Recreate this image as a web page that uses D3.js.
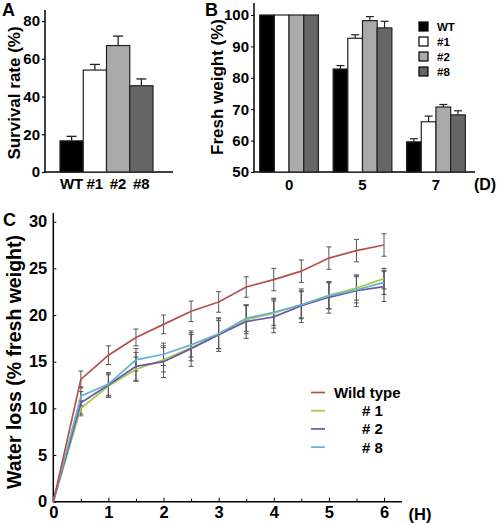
<!DOCTYPE html>
<html><head><meta charset="utf-8">
<script src="https://cdn.jsdelivr.net/npm/d3@7"></script>
<style>body{margin:0;background:#fff;} svg{display:block;font-family:"Liberation Sans",Arial,sans-serif;font-weight:bold;}</style>
</head><body>
<svg id="c" width="498" height="523"></svg>
<script>
// ---- Panel A data
const linesA = ["WT", "#1", "#2", "#8"];
const survival = [16.5, 54, 67, 45.7];
const survivalErr = [2.4, 3, 5, 3.6];
const yTicksA = [0, 20, 40, 60, 80];
// ---- Panel B data
const days = ["0", "5", "7"];
const freshWT = [100, 82.8, 59.6];
const fresh1 = [100, 92.6, 66.0];
const fresh2 = [100, 98.2, 70.7];
const fresh8 = [100, 95.9, 68.2];
const freshErr = [[0,1.1,1.0],[0,1.1,1.8],[0,1.3,0.8],[0,2.1,1.3]];
const yTicksB = [50, 60, 70, 80, 90, 100];
// ---- Panel C data
const hours = [0,0.5,1,1.5,2,2.5,3,3.5,4,4.5,5,5.5,6];
const lossWT = [0,13.1,15.7,17.6,19.0,20.4,21.4,23.0,23.8,24.7,26.1,26.9,27.5];
const errWT  = [0,0.9,1.0,0.9,1.0,1.1,1.1,1.1,1.2,1.2,1.2,1.2,1.2];
const loss1  = [0,10.0,12.4,14.2,15.2,16.5,17.9,19.5,20.2,21.1,22.1,22.9,23.9];
const err1   = [0,0.8,1.2,1.3,1.3,1.4,1.5,1.5,1.6,1.4,1.4,1.3,1.1];
const loss2  = [0,10.6,12.5,14.5,15.0,16.4,17.9,19.3,19.8,21.0,21.9,22.6,23.05];
const err2   = [0,1.2,1.3,1.5,1.7,1.9,1.8,1.8,1.7,1.8,1.7,1.7,1.6];
const loss8  = [0,11.3,12.6,15.2,15.8,16.8,18.0,19.65,20.3,21.1,22.05,22.7,23.5];
const err8   = [0,1.0,1.2,1.2,1.2,1.3,1.6,1.4,1.4,1.5,1.4,1.4,1.3];
const legendC = ["Wild type", "# 1", "# 2", "# 8"];
const yTicksC = [0,5,10,15,20,25,30];
const xTicksC = [0,1,2,3,4,5,6];

const svg = d3.select("#c");
const fills = ["#000000", "#ffffff", "#aaaaaa", "#666666"];
const FF = "Liberation Sans, Arial, sans-serif";

// ================= Panel A
{
  const y = d3.scaleLinear().domain([0, 80]).range([172, 21]);
  const x = d3.scaleBand().domain(linesA).range([60, 153]).padding(0);
  const g = svg.append("g");
  g.append("line").attr("x1",45).attr("x2",45).attr("y1",10).attr("y2",172).attr("stroke","#000").attr("stroke-width",1.5);
  g.append("line").attr("x1",45).attr("x2",173).attr("y1",172).attr("y2",172).attr("stroke","#000").attr("stroke-width",1.5);
  const ax = g.append("g").attr("transform","translate(45,0)").call(d3.axisLeft(y).tickValues(yTicksA).tickSize(3).tickPadding(2));
  ax.select(".domain").remove();
  ax.selectAll("text").attr("font-size",15).attr("font-weight","bold").attr("font-family",FF).attr("fill","#000");
  ax.selectAll("line").attr("stroke-width",1.2);
  linesA.forEach((k,i)=>{
    const cx = x(k)+x.bandwidth()/2;
    g.append("line").attr("x1",cx).attr("x2",cx).attr("y1",y(survival[i])).attr("y2",y(survival[i]+survivalErr[i])).attr("stroke","#222").attr("stroke-width",1.3);
    g.append("line").attr("x1",cx-5).attr("x2",cx+5).attr("y1",y(survival[i]+survivalErr[i])).attr("y2",y(survival[i]+survivalErr[i])).attr("stroke","#222").attr("stroke-width",1.3);
    g.append("rect").attr("x",x(k)).attr("width",x.bandwidth()).attr("y",y(survival[i])).attr("height",y(0)-y(survival[i]))
      .attr("fill",fills[i]).attr("stroke","#222").attr("stroke-width",1.2);
    g.append("text").attr("x",cx).attr("y",189).attr("text-anchor","middle").attr("font-size",15).text(k);
  });
  g.append("text").attr("x",2).attr("y",16).attr("font-size",18).text("A");
  g.append("text").attr("transform","translate(20,93) rotate(-90)").attr("text-anchor","middle").attr("font-size",17).text("Survival rate (%)");
}

// ================= Panel B
{
  const y = d3.scaleLinear().domain([50, 100]).range([172, 15]);
  const x0 = d3.scaleBand().domain(days).range([256, 469]).paddingInner(0.2).paddingOuter(0.05);
  const x1 = d3.scaleBand().domain(linesA).range([0, x0.bandwidth()]);
  const series = [freshWT, fresh1, fresh2, fresh8];
  const g = svg.append("g");
  g.append("line").attr("x1",254).attr("x2",254).attr("y1",3).attr("y2",172).attr("stroke","#000").attr("stroke-width",1.5);
  g.append("line").attr("x1",254).attr("x2",475).attr("y1",172).attr("y2",172).attr("stroke","#000").attr("stroke-width",1.5);
  const ax = g.append("g").attr("transform","translate(254,0)").call(d3.axisLeft(y).tickValues(yTicksB).tickSize(3).tickPadding(2));
  ax.select(".domain").remove();
  ax.selectAll("text").attr("font-size",15).attr("font-weight","bold").attr("font-family",FF).attr("fill","#000");
  days.forEach((d,j)=>{
    series.forEach((s,i)=>{
      const bx = x0(d)+x1(linesA[i]);
      const cx = bx + x1.bandwidth()/2;
      if (freshErr[i][j] > 0) {
        const top = y(s[j]+freshErr[i][j]);
        g.append("line").attr("x1",cx).attr("x2",cx).attr("y1",y(s[j])).attr("y2",top).attr("stroke","#222").attr("stroke-width",1.2);
        g.append("line").attr("x1",cx-4).attr("x2",cx+4).attr("y1",top).attr("y2",top).attr("stroke","#222").attr("stroke-width",1.2);
      }
      g.append("rect").attr("x",bx).attr("width",x1.bandwidth()).attr("y",y(s[j])).attr("height",y(50)-y(s[j]))
        .attr("fill",fills[i]).attr("stroke","#222").attr("stroke-width",1.2);
    });
    g.append("text").attr("x",x0(d)+x0.bandwidth()/2).attr("y",190).attr("text-anchor","middle").attr("font-size",15).text(d);
  });
  g.append("text").attr("x",485).attr("y",190).attr("text-anchor","middle").attr("font-size",16).text("(D)");
  g.append("text").attr("x",205).attr("y",16).attr("font-size",18).text("B");
  g.append("text").attr("transform","translate(223,87) rotate(-90)").attr("text-anchor","middle").attr("font-size",17).text("Fresh weight (%)");
  linesA.forEach((k,i)=>{
    const ly = 27 + i*15;
    g.append("rect").attr("x",419).attr("y",ly-5).attr("width",9).attr("height",9).attr("fill",fills[i]).attr("stroke","#000").attr("stroke-width",1.2);
    g.append("text").attr("x",437).attr("y",ly+4).attr("font-size",11.5).text(k);
  });
}

// ================= Panel C
{
  const x = d3.scaleLinear().domain([0, 6]).range([53.3, 384]);
  const y = d3.scaleLinear().domain([0, 30]).range([501.7, 221.7]);
  const g = svg.append("g");
  const colors = ["#b5504d", "#a9c54c", "#6a57a6", "#62b4d2"];
  const vals = [lossWT, loss1, loss2, loss8];
  const errs = [errWT, err1, err2, err8];
  g.append("line").attr("x1",53.3).attr("x2",53.3).attr("y1",213).attr("y2",501.7).attr("stroke","#000").attr("stroke-width",1.5);
  g.append("line").attr("x1",53.3).attr("x2",402).attr("y1",501.7).attr("y2",501.7).attr("stroke","#000").attr("stroke-width",1.5);
  const ay = g.append("g").attr("transform","translate(53.3,0)").call(d3.axisLeft(y).tickValues(yTicksC).tickSizeInner(-3).tickSizeOuter(0).tickPadding(6));
  ay.select(".domain").remove();
  ay.selectAll("text").attr("font-size",16.5).attr("font-weight","bold").attr("font-family",FF).attr("fill","#000");
  const ax = g.append("g").attr("transform","translate(0,501.7)").call(d3.axisBottom(x).tickValues(xTicksC).tickSizeInner(-4).tickSizeOuter(0).tickPadding(5).tickFormat(d3.format("d")));
  ax.select(".domain").remove();
  ax.selectAll("text").attr("font-size",16.5).attr("font-weight","bold").attr("font-family",FF).attr("fill","#000");
  const minor = g.append("g").attr("transform","translate(0,501.7)").call(d3.axisBottom(x).tickValues(hours.filter(h=>h%1!==0)).tickSizeInner(-3).tickSizeOuter(0).tickFormat(""));
  minor.select(".domain").remove();
  g.append("text").attr("x",420).attr("y",520).attr("text-anchor","middle").attr("font-size",16.5).text("(H)");
  // error bars
  vals.forEach((v,si)=>{
    hours.forEach((h,i)=>{
      if (errs[si][i] <= 0) return;
      const cx = x(h), t = y(v[i]+errs[si][i]), b = y(v[i]-errs[si][i]);
      g.append("line").attr("x1",cx).attr("x2",cx).attr("y1",t).attr("y2",b).attr("stroke","#555").attr("stroke-width",1);
      g.append("line").attr("x1",cx-2.5).attr("x2",cx+2.5).attr("y1",t).attr("y2",t).attr("stroke","#555").attr("stroke-width",1);
      g.append("line").attr("x1",cx-2.5).attr("x2",cx+2.5).attr("y1",b).attr("y2",b).attr("stroke","#555").attr("stroke-width",1);
    });
  });
  const line = d3.line().x((d,i)=>x(hours[i])).y(d=>y(d));
  [1,2,3,0].forEach(si=>{
    g.append("path").datum(vals[si]).attr("d",line).attr("fill","none").attr("stroke",colors[si]).attr("stroke-width",1.7);
  });
  legendC.forEach((k,i)=>{
    const ly = 392.5 + i*18.2;
    g.append("line").attr("x1",311).attr("x2",325).attr("y1",ly).attr("y2",ly).attr("stroke",colors[i]).attr("stroke-width",1.7);
    if (i===0) g.append("text").attr("x",334).attr("y",ly+5.5).attr("font-size",15).text(k);
    else g.append("text").attr("x",362).attr("y",ly+5.5).attr("font-size",15).text(k);
  });
  g.append("text").attr("x",3).attr("y",226).attr("font-size",18).text("C");
  g.append("text").attr("transform","translate(21,362) rotate(-90)").attr("text-anchor","middle").attr("font-size",19.5).text("Water loss (% fresh weight)");
}
</script>
</body></html>
